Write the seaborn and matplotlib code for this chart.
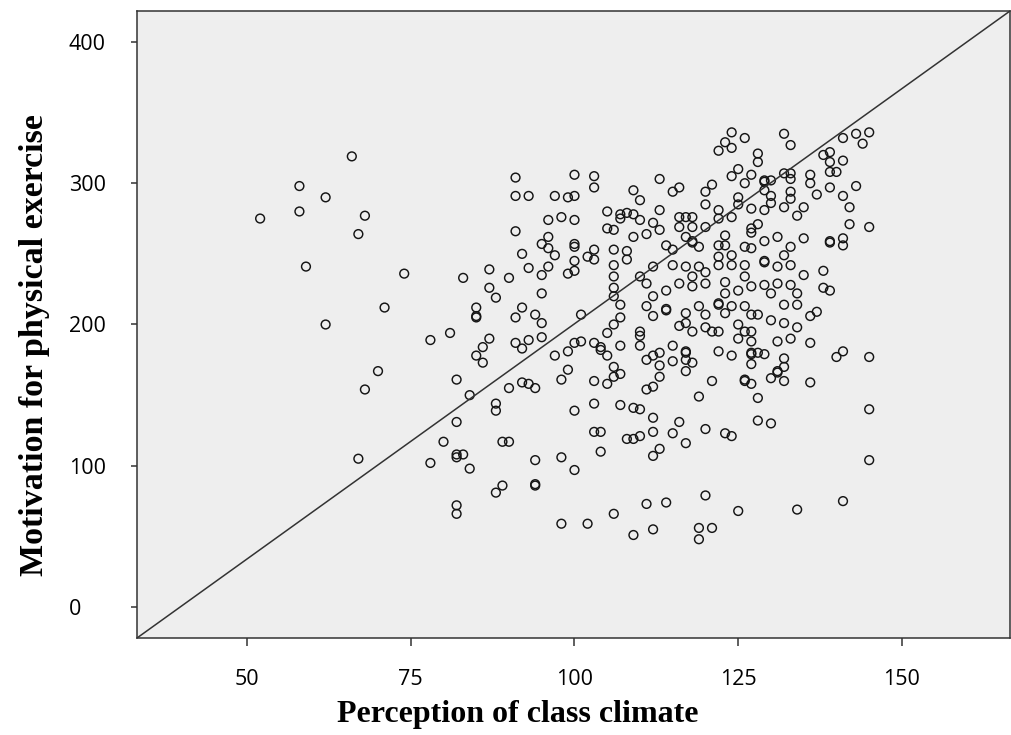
import numpy as np
import pandas as pd
import seaborn as sns
import matplotlib.pyplot as plt

# perception of class climate (x) / motivation for physical exercise (y)
climate = [
    66, 58, 62, 58, 52, 68, 67, 59, 74, 71, 62, 78, 81, 70, 68, 67, 78, 80,
    91, 100, 103, 103, 91, 93, 97, 99, 100, 109, 110,
    105, 107, 108, 109, 107, 96, 98, 100, 91, 105, 106, 109,
    96, 95, 96, 97, 100, 100, 92, 103, 102, 103, 100, 106, 108, 108,
    87, 93, 96, 95, 99, 100, 106, 106, 83, 90, 110,
    87, 88, 95, 106, 106, 107,
    85, 85, 85, 92, 91, 94, 95, 101, 107, 106, 105,
    87, 86, 85, 86, 91, 92, 93, 95, 97, 99, 100, 101, 103, 104, 104, 105, 107,
    82, 99, 98, 103, 105, 106, 106, 107, 90, 92, 93, 94, 84, 110,
    88, 88, 82, 100, 103, 107, 109, 103, 104, 89, 90, 108, 109, 110, 82, 82,
    83, 84, 94, 98, 100, 104, 88, 89, 94, 94, 82, 82, 98, 102, 106, 109,
    124, 126, 123, 122, 124, 132, 133, 141, 143, 145, 144, 128, 128, 139, 138, 139, 141,
    113, 116, 115, 124, 125, 127, 126, 121, 120, 129, 129, 129, 130, 132, 133, 133,
    136, 136, 139, 140, 139, 143,
    113, 120, 122, 125, 125, 127, 130, 130, 133, 133, 132, 135, 137, 141, 142,
    110, 112, 116, 117, 118, 116, 118, 120, 122, 124, 129, 127, 128, 134, 142, 145, 113,
    111, 114, 117, 118, 118, 119, 115, 122, 123, 123, 127, 126, 127, 129, 131, 135,
    133, 139, 139, 141, 141,
    112, 115, 117, 119, 120, 122, 122, 124, 124, 126, 129, 129, 131, 132, 133,
    135, 138, 118,
    111, 114, 116, 118, 120, 123, 123, 125, 126, 127, 129, 130, 131, 133, 134, 138, 139, 112,
    111, 112, 114, 114, 117, 119, 120, 122, 122, 123, 124, 126, 127, 128, 130, 132,
    134, 136, 137,
    110, 116, 117, 118, 120, 121, 122, 125, 125, 126, 127, 127, 131, 132, 133,
    134, 136, 110,
    112, 113, 113, 115, 115, 117, 117, 117, 117, 118, 111, 122, 124, 127, 127, 128,
    129, 127, 132, 132, 131, 131, 130, 132, 140, 141, 145,
    113, 112, 111, 121, 119, 126, 126, 127, 128, 136, 110,
    112, 112, 116, 115, 117, 113, 112, 120, 123, 124, 128, 130, 145, 145,
    111, 114, 120, 125, 134, 141, 112, 119, 121, 119,
]
motivation = [
    319, 298, 290, 280, 275, 277, 264, 241, 236, 212, 200, 189, 194, 167, 154, 105, 102, 117,
    304, 306, 305, 297, 291, 291, 291, 290, 291, 295, 288,
    280, 278, 279, 278, 275, 274, 276, 274, 266, 268, 267, 262,
    262, 257, 254, 249, 257, 255, 250, 253, 248, 246, 245, 253, 252, 246,
    239, 240, 241, 235, 236, 238, 242, 234, 233, 233, 234,
    226, 219, 222, 226, 220, 214,
    212, 205, 206, 212, 205, 207, 201, 207, 205, 200, 194,
    190, 184, 178, 173, 187, 183, 189, 191, 178, 181, 187, 188, 187, 184, 182, 178, 185,
    161, 168, 161, 160, 158, 170, 163, 165, 155, 159, 158, 155, 150, 192,
    144, 139, 131, 139, 144, 143, 141, 124, 124, 117, 117, 119, 119, 121, 106, 108,
    108, 98, 104, 106, 97, 110, 81, 86, 87, 86, 72, 66, 59, 59, 66, 51,
    336, 332, 329, 323, 325, 335, 327, 332, 335, 336, 328, 321, 315, 322, 320, 315, 316,
    303, 297, 294, 305, 310, 306, 300, 299, 294, 301, 302, 295, 302, 307, 307, 303,
    306, 300, 308, 308, 297, 298,
    281, 285, 281, 290, 285, 282, 291, 286, 294, 289, 283, 283, 292, 291, 283,
    274, 272, 276, 276, 276, 269, 269, 269, 275, 276, 281, 268, 271, 277, 271, 269, 267,
    264, 256, 262, 258, 259, 255, 253, 256, 263, 256, 265, 255, 254, 259, 262, 261,
    255, 259, 258, 261, 256,
    241, 242, 241, 241, 237, 248, 242, 249, 242, 242, 244, 245, 241, 249, 242,
    235, 238, 234,
    229, 224, 229, 227, 229, 230, 222, 224, 234, 227, 228, 222, 229, 228, 222, 226, 224, 220,
    213, 206, 210, 211, 208, 213, 207, 214, 215, 208, 213, 213, 207, 207, 203, 214,
    214, 206, 209,
    195, 199, 201, 195, 198, 195, 195, 200, 190, 195, 195, 188, 188, 201, 190,
    198, 187, 185,
    178, 180, 171, 185, 174, 180, 181, 175, 167, 173, 175, 181, 178, 179, 180, 180,
    179, 172, 176, 170, 167, 166, 162, 160, 177, 181, 177,
    163, 156, 154, 160, 149, 161, 160, 158, 148, 159, 140,
    134, 124, 131, 123, 116, 112, 107, 126, 123, 121, 132, 130, 140, 104,
    73, 74, 79, 68, 69, 75, 55, 56, 56, 48,
]

x_ticks = [50, 75, 100, 125, 150]
y_ticks = [0, 100, 200, 300, 400]

df = pd.DataFrame({'climate': climate, 'motivation': motivation})

sns.set_theme(style='ticks')
plt.rcParams['font.family'] = ['Open Sans', 'DejaVu Sans']

fig = plt.figure(figsize=(10.12, 7.35), dpi=100)
ax = fig.add_axes([137/1012, 1-638/735, 873/1012, 627/735])
ax.set_facecolor('#eeeeee')

sns.scatterplot(data=df, x='climate', y='motivation', ax=ax, marker='o', s=40,
                facecolors='none', edgecolor='#151515', linewidth=1.05, legend=False)
# reference line corner to corner
ax.plot([0, 1], [0, 1], transform=ax.transAxes, color='#333333', lw=1.1)

ax.set_xlim(33.2, 166.5)
ax.set_ylim(-21.9, 421.9)
ax.set_xticks(x_ticks)
ax.set_yticks(y_ticks)

for sp in ax.spines.values():
    sp.set_color('#333333')
    sp.set_linewidth(1.1)

ax.tick_params(axis='x', length=6, width=1.1, color='#333333', pad=16, labelsize=15.5, labelcolor='black')
ax.tick_params(axis='y', length=4, width=1.1, color='#333333', pad=45, labelsize=15.5, labelcolor='black')
for lbl in ax.get_yticklabels():
    lbl.set_horizontalalignment('left')

ax.set_xlabel('Perception of class climate', fontfamily='Liberation Serif',
              fontweight='bold', fontsize=23, color='black')
ax.set_ylabel('Motivation for physical exercise', fontfamily='Liberation Serif',
              fontweight='bold', fontsize=24.5, color='black')
ax.xaxis.set_label_coords(0.436, -0.099)
ax.yaxis.set_label_coords(-0.0997, 0.467)

fig.savefig('out.png', dpi=100)
